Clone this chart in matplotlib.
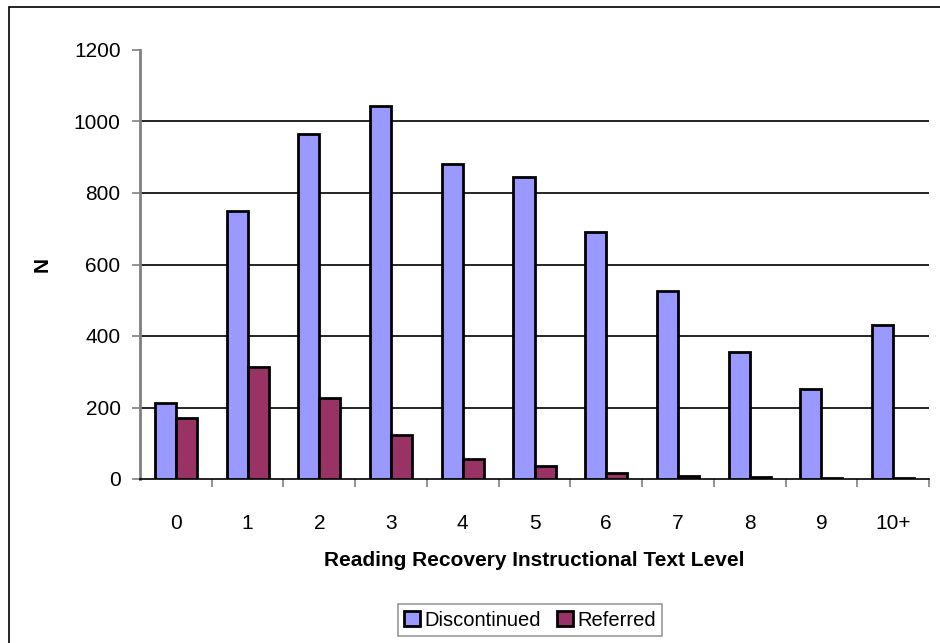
import numpy as np
import matplotlib.pyplot as plt
from matplotlib.patches import Rectangle

plt.rcParams['font.family'] = ['Liberation Sans Narrow', 'Liberation Sans', 'DejaVu Sans']

levels = ['0', '1', '2', '3', '4', '5', '6', '7', '8', '9', '10+']
discontinued = [212, 750, 966, 1042, 882, 846, 691, 526, 355, 252, 432]
referred = [170, 314, 227, 123, 56, 36, 16, 8, 5, 3, 3]

fig = plt.figure(figsize=(9.4, 6.43), dpi=100)
fig.patches.append(Rectangle((9 / 940, -0.1), 1.2, (643 - 7) / 643 + 0.1,
                             transform=fig.transFigure, fill=False,
                             edgecolor='black', linewidth=1.2))
ax = fig.add_axes([140 / 940, (643 - 479) / 643, 789 / 940, 429 / 643])

x = np.arange(len(levels))
w = 0.293
ax.bar(x - w / 2, discontinued, w, color='#9999FF', edgecolor='black',
       linewidth=2, label='Discontinued', zorder=3)
ax.bar(x + w / 2, referred, w, color='#993366', edgecolor='black',
       linewidth=2, label='Referred', zorder=3)

ax.set_xlim(-0.5, len(levels) - 0.5)
ax.set_ylim(0, 1200)
ax.set_yticks(np.arange(0, 1201, 200))
for v in range(200, 1001, 200):
    ax.axhline(v, color='black', linewidth=1.2, zorder=1)

ax.set_xticks(np.arange(0.5, len(levels) - 0.5 + 0.01, 1))
ax.set_xticklabels([])
ax.set_xticks(x, minor=True)
ax.set_xticklabels(levels, minor=True)
ax.tick_params(axis='x', which='minor', length=0, pad=25, labelsize=15)
ax.tick_params(axis='x', which='major', length=6, color='#808080', width=1.2)
ax.tick_params(axis='y', length=6, color='#808080', width=1.2, labelsize=15, pad=8)

for s in ['top', 'right']:
    ax.spines[s].set_visible(False)
ax.spines['left'].set_color('#808080')
ax.spines['left'].set_linewidth(2)
ax.spines['bottom'].set_color('black')
ax.spines['bottom'].set_linewidth(1.2)

ax.set_xlabel('Reading Recovery Instructional Text Level', fontsize=15,
              fontweight='bold', labelpad=13)
ax.set_ylabel('N', fontsize=15, fontweight='bold', labelpad=16)

leg = ax.legend(loc='center', bbox_to_anchor=(530 / 940, (643 - 620) / 643),
                bbox_transform=fig.transFigure, ncol=2, fontsize=14.5,
                frameon=True, fancybox=False, handlelength=0.8,
                handleheight=0.8, handletextpad=0.2, columnspacing=0.8,
                borderpad=0.3)
leg.get_frame().set_edgecolor('#808080')
leg.get_frame().set_linewidth(1.2)

fig.savefig('out.png', dpi=100)
